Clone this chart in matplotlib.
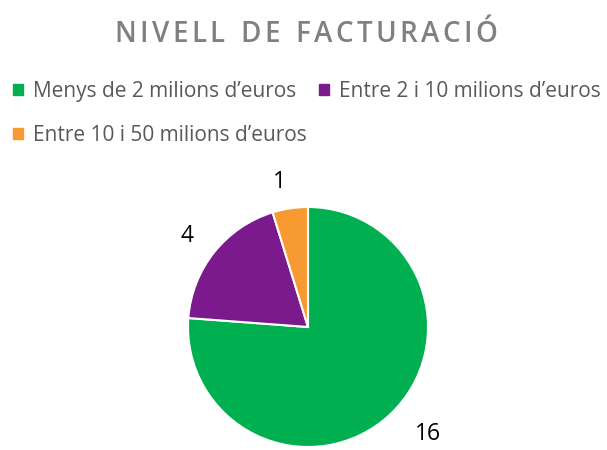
import matplotlib
matplotlib.use("Agg")
import matplotlib.pyplot as plt
from matplotlib.patches import Patch

# data
categories = ["Menys de 2 milions d\u2019euros", "Entre 2 i 10 milions d\u2019euros",
              "Entre 10 i 50 milions d\u2019euros"]
values = [16, 4, 1]
colors = ["#00B050", "#7B1A8C", "#F79A32"]
title = "NIVELL DE FACTURACI\u00d3"

W, H = 607, 450
fig = plt.figure(figsize=(W / 100, H / 100), dpi=100)

# pie: centre (308, 327) px from top-left, radius 120 px
cx, cy, r = 308, 327, 120
ax = fig.add_axes([(cx - r) / W, (H - cy - r) / H, 2 * r / W, 2 * r / H])

wedges, texts = ax.pie(values, colors=colors, startangle=90, counterclock=False,
                       labels=[str(v) for v in values], labeldistance=1.22,
                       wedgeprops=dict(edgecolor="white", linewidth=1.5),
                       textprops=dict(fontsize=16.5, color="#000000", family="Open Sans"))
# the big slice label sits further right, but must stay inside the figure
x, y = texts[0].get_position()
texts[0].set_position((x * 1.075, y))
ax.set_xlim(-1, 1)
ax.set_ylim(-1, 1)
ax.set_aspect("equal")

# legend: matplotlib fills columns first, so reorder to get 2 on top row
handles = [Patch(color=c) for c in colors]
order = [0, 2, 1]
fig.legend([handles[i] for i in order], [categories[i] for i in order],
           ncol=2, loc="upper left", bbox_to_anchor=(13 / W, 1 - 81 / H),
           frameon=False, borderpad=0, borderaxespad=0,
           handlelength=0.48, handleheight=0.48, handletextpad=0.5, columnspacing=0.55,
           labelspacing=1.1, prop=dict(family="Open Sans", size=15),
           labelcolor="#595959")

# spaced title, one letter at a time
fig.canvas.draw()
renderer = fig.canvas.get_renderer()
spacing = 3.4  # px between letters
pieces = []
total = 0
for ch in title:
    t = fig.text(0, 0, ch, fontsize=20, family="Open Sans", color="#808080",
                 fontweight="semibold", va="baseline")
    w = t.get_window_extent(renderer).width if ch != " " else 9
    pieces.append((t, w))
    total += w + spacing
total -= spacing
xpos = 306 - total / 2
for t, w in pieces:
    t.set_position((xpos / W, 1 - 42 / H))
    xpos += w + spacing

fig.savefig("out.png", dpi=100)
